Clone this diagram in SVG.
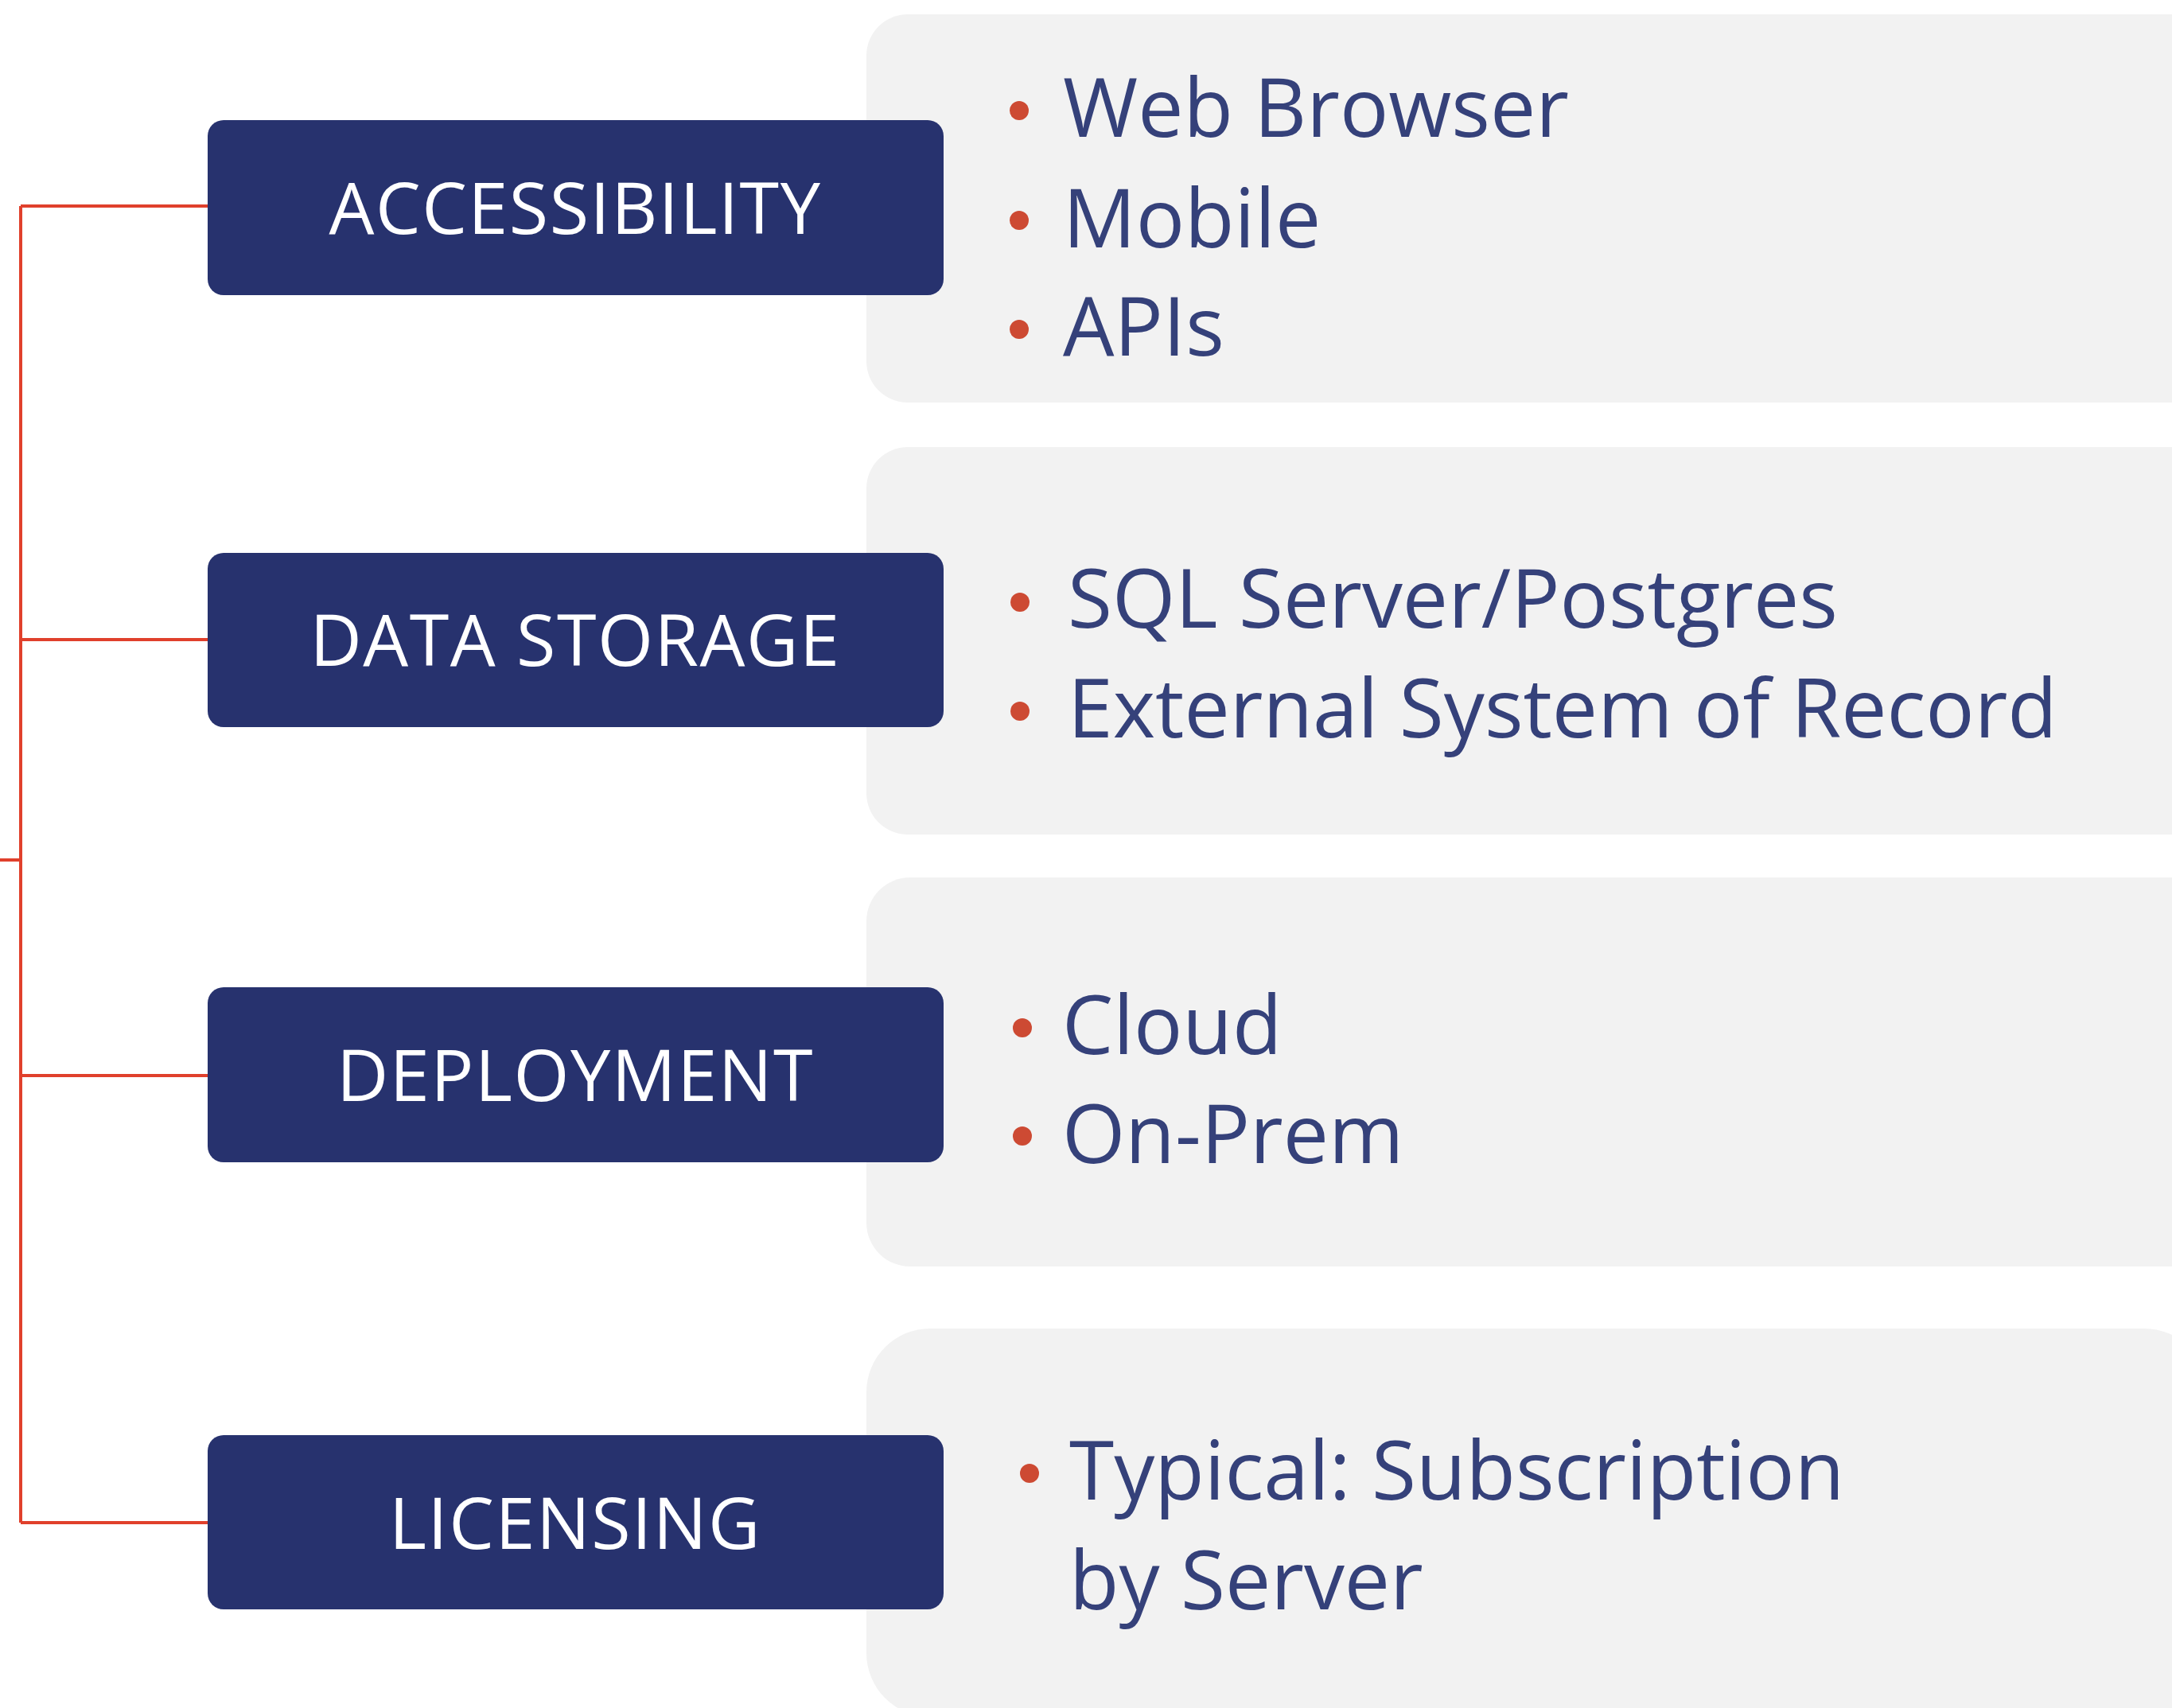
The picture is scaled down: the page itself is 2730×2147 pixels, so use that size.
<svg xmlns="http://www.w3.org/2000/svg" width="2730" height="2147" viewBox="0 0 2730 2147">
<style>
.panel{fill:#F2F2F2}
.box{fill:#27326E}
.lbl{font-family:"Open Sans","Noto Sans",sans-serif;font-size:90px;fill:#FFFFFF;text-anchor:middle;letter-spacing:1.5px}
.item{font-family:"Open Sans","Noto Sans",sans-serif;font-size:102px;fill:#35417A}
.dot{fill:#CD4A33}
.conn{fill:none;stroke:#E0402C;stroke-width:4}
</style>
<rect width="2730" height="2147" fill="#FFFFFF"/>
<g id="panels">
<rect id="panel-accessibility" class="panel" x="1089" y="18" width="1720" height="488" rx="52"/>
<rect id="panel-data-storage" class="panel" x="1089" y="562" width="1720" height="487" rx="52"/>
<rect id="panel-deployment" class="panel" x="1089" y="1103" width="1720" height="489" rx="55"/>
<rect id="panel-licensing" class="panel" x="1089" y="1670" width="1686" height="488" rx="80"/>
</g>
<g id="connectors">
<path class="conn" d="M0,1081 H26 M26,259 V1914 M26,259 H262 M26,804 H262 M26,1352 H262 M26,1914 H262"/>
</g>
<g id="node-accessibility">
<rect class="box" x="261" y="151" width="925" height="220" rx="20"/>
<text class="lbl" x="723" y="294">ACCESSIBILITY</text>
</g>
<g id="node-data-storage">
<rect class="box" x="261" y="695" width="925" height="219" rx="20"/>
<text class="lbl" x="723" y="837">DATA STORAGE</text>
</g>
<g id="node-deployment">
<rect class="box" x="261" y="1241" width="925" height="220" rx="20"/>
<text class="lbl" x="723" y="1384">DEPLOYMENT</text>
</g>
<g id="node-licensing">
<rect class="box" x="261" y="1804" width="925" height="219" rx="20"/>
<text class="lbl" x="723" y="1947">LICENSING</text>
</g>
<g id="items-accessibility">
<circle class="dot" cx="1281" cy="139" r="12"/>
<text class="item" x="1336" y="172">Web Browser</text>
<circle class="dot" cx="1281" cy="277" r="12"/>
<text class="item" x="1336" y="311">Mobile</text>
<circle class="dot" cx="1281" cy="414" r="12"/>
<text class="item" x="1336" y="447">APIs</text>
</g>
<g id="items-data-storage">
<circle class="dot" cx="1282" cy="757" r="12"/>
<text class="item" x="1342" y="789">SQL Server/Postgres</text>
<circle class="dot" cx="1282" cy="894" r="12"/>
<text class="item" x="1342" y="927">External System of Record</text>
</g>
<g id="items-deployment">
<circle class="dot" cx="1285" cy="1292" r="12"/>
<text class="item" x="1335" y="1325">Cloud</text>
<circle class="dot" cx="1285" cy="1428" r="12"/>
<text class="item" x="1335" y="1462">On-Prem</text>
</g>
<g id="items-licensing">
<circle class="dot" cx="1294" cy="1852" r="12"/>
<text class="item" x="1344" y="1885">Typical: Subscription</text>
<text class="item" x="1344" y="2023">by Server</text>
</g>
</svg>
